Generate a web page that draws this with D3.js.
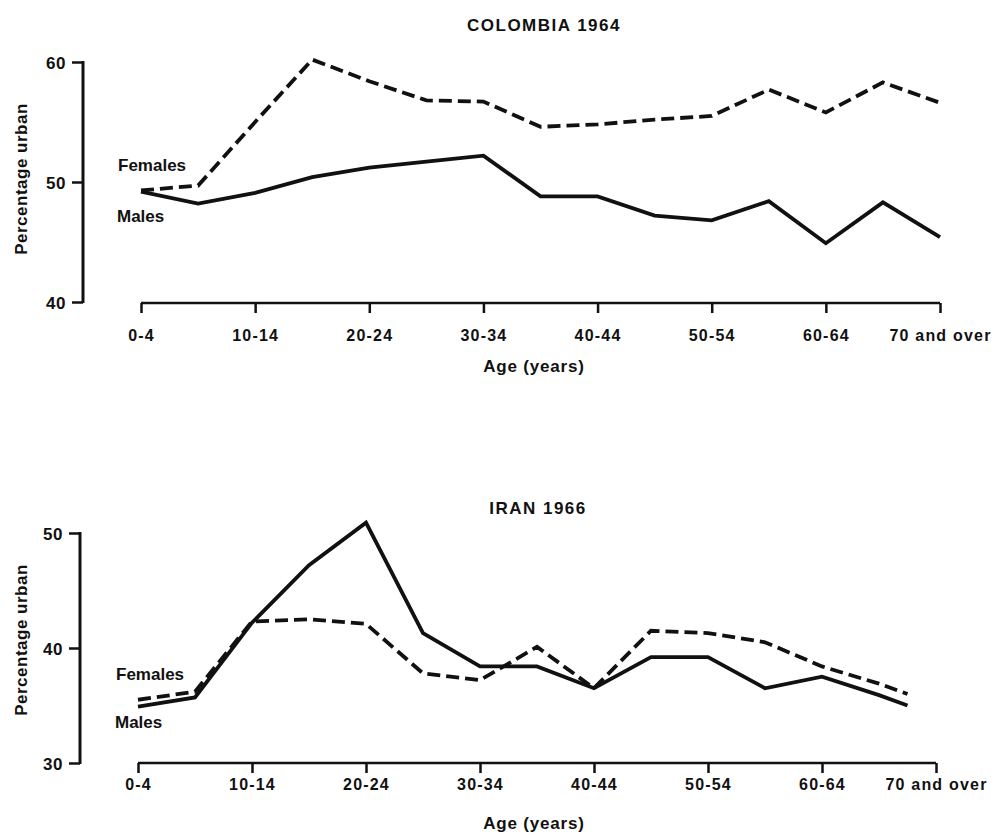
<!DOCTYPE html>
<html>
<head>
<meta charset="utf-8">
<script src="https://cdn.jsdelivr.net/npm/d3@7"></script>
<style>
  body { margin: 0; background: #fff; }
</style>
</head>
<body>
<script>
// age groups plotted along x (index = position on the axis)
const ageGroups = ["0-4","5-9","10-14","15-19","20-24","25-29","30-34","35-39",
                   "40-44","45-49","50-54","55-59","60-64","65-69","70 and over"];
const tickLabels = ["0-4","10-14","20-24","30-34","40-44","50-54","60-64","70 and over"];
const tickPos = [0, 2, 4, 6, 8, 10, 12, 14];

// Colombia 1964
const colombiaPos = [0,1,2,3,4,5,6,7,8,9,10,11,12,13,14];
const colombiaFemales = [49.3,49.7,55.0,60.2,58.4,56.8,56.7,54.6,54.8,55.2,55.5,57.7,55.8,58.3,56.6];
const colombiaMales   = [49.2,48.2,49.1,50.4,51.2,51.7,52.2,48.8,48.8,47.2,46.8,48.4,44.9,48.3,45.4];
const colombiaTicks = [40, 50, 60];

// Iran 1966 (last point drawn short of the 70 and over tick, as in the original)
const iranPos = [0,1,2,3,4,5,6,7,8,9,10,11,12,13,13.5];
const iranFemales = [35.5,36.2,42.3,42.5,42.1,37.8,37.2,40.1,36.5,41.5,41.3,40.5,38.4,36.9,36.0];
const iranMales   = [34.9,35.7,42.2,47.2,50.9,41.3,38.4,38.4,36.5,39.2,39.2,36.5,37.5,35.9,35.0];
const iranTicks = [30, 40, 50];

const FONT = '"Liberation Sans", Arial, Helvetica, sans-serif';

const svg = d3.select("body").append("svg")
    .attr("width", 998)
    .attr("height", 835);

let styleText = (sel, size, spacing) => sel
    .attr("fill", "#111")
    .style("font-family", FONT)
    .style("font-weight", "bold")
    .style("font-size", size + "px")
    .style("letter-spacing", spacing + "px");

let drawPanel = (p) => {
    let x = d3.scaleLinear().domain([0, 14]).range([p.x0, p.x1]);
    let y = d3.scaleLinear().domain(p.yDomain).range([p.yBottom, p.yTop]);
    let g = svg.append("g");

    // y axis
    let yAxis = g.append("g")
        .attr("transform", "translate(" + p.yAxisX + ",0)")
        .call(d3.axisLeft(y).tickValues(p.yTicks).tickSize(11).tickPadding(6).tickFormat(d3.format("d")));
    yAxis.select(".domain").attr("stroke", "#111").attr("stroke-width", 3)
        .attr("d", "M0," + (p.yTop - 1) + "V" + (p.yBottom + 1));
    yAxis.selectAll(".tick line").attr("stroke", "#111").attr("stroke-width", 2.5);
    styleText(yAxis.selectAll(".tick text"), 17, 0.5).attr("dy", "0.36em");

    // x axis
    let xAxis = g.append("g")
        .attr("transform", "translate(0," + p.xAxisY + ")")
        .call(d3.axisBottom(x).tickValues(tickPos).tickSize(10)
            .tickFormat((d, i) => tickLabels[i]));
    xAxis.select(".domain").attr("stroke", "#111").attr("stroke-width", 2.5)
        .attr("d", "M" + p.x0 + ",0H" + p.x1);
    xAxis.selectAll(".tick line").attr("stroke", "#111").attr("stroke-width", 2.5);
    styleText(xAxis.selectAll(".tick text"), 16, 1.2)
        .attr("y", p.tickLabelDy).attr("dy", 0);

    let line = d3.line().x(d => x(d[0])).y(d => y(d[1]));

    g.append("path")
        .datum(p.pos.map((d, i) => [d, p.females[i]]))
        .attr("fill", "none")
        .attr("stroke", "#111")
        .attr("stroke-width", 3.8)
        .attr("stroke-dasharray", "13,6")
        .attr("d", line);

    g.append("path")
        .datum(p.pos.map((d, i) => [d, p.males[i]]))
        .attr("fill", "none")
        .attr("stroke", "#111")
        .attr("stroke-width", 3.8)
        .attr("d", line);

    styleText(g.append("text"), 17, 1.5)
        .attr("x", p.titleX).attr("y", p.titleY)
        .attr("text-anchor", "middle")
        .text(p.title);

    styleText(g.append("text"), 17, 0.8)
        .attr("x", 534).attr("y", p.xTitleY)
        .attr("text-anchor", "middle")
        .text("Age (years)");

    styleText(g.append("text"), 17, 0.5)
        .attr("transform", "translate(27," + p.yTitleY + ") rotate(-90)")
        .attr("text-anchor", "middle")
        .text("Percentage urban");

    styleText(g.append("text"), 17, 0)
        .attr("x", p.labelX).attr("y", p.femY).text("Females");
    styleText(g.append("text"), 17, 0)
        .attr("x", p.labelX - 1).attr("y", p.maleY).text("Males");
};

drawPanel({
    title: "COLOMBIA 1964", titleX: 544, titleY: 31,
    x0: 141, x1: 940, xAxisY: 303, tickLabelDy: 38,
    yDomain: [40, 60], yTop: 62, yBottom: 302, yAxisX: 83, yTicks: colombiaTicks,
    pos: colombiaPos, females: colombiaFemales, males: colombiaMales,
    xTitleY: 372, yTitleY: 179, labelX: 118, femY: 171, maleY: 222
});

drawPanel({
    title: "IRAN 1966", titleX: 538, titleY: 514,
    x0: 138, x1: 936, xAxisY: 763, tickLabelDy: 27,
    yDomain: [30, 50], yTop: 533, yBottom: 763, yAxisX: 80, yTicks: iranTicks,
    pos: iranPos, females: iranFemales, males: iranMales,
    xTitleY: 829, yTitleY: 640, labelX: 116, femY: 680, maleY: 728
});
</script>
</body>
</html>
